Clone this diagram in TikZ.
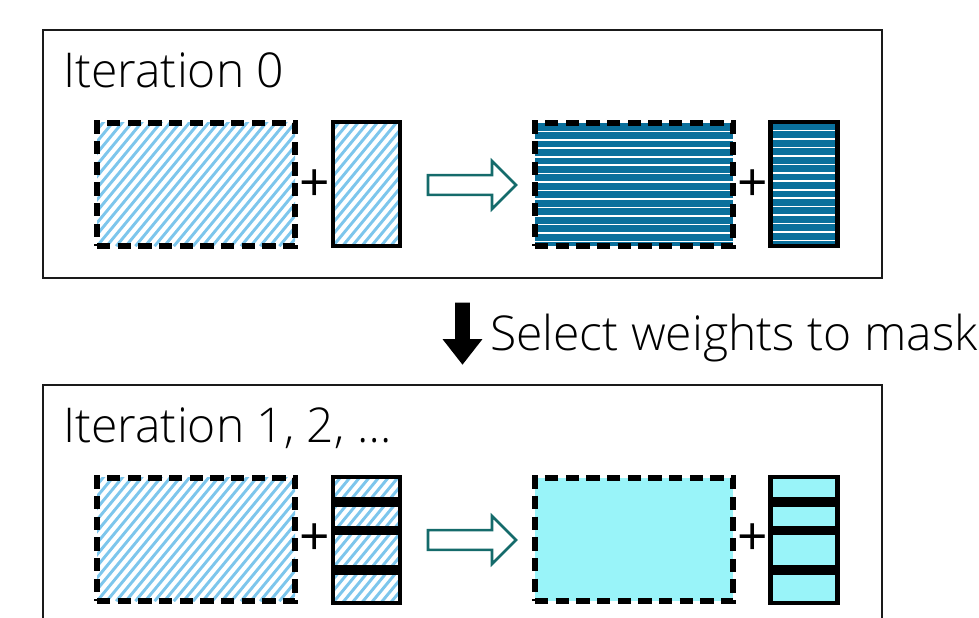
\documentclass[tikz,border=0pt]{standalone}
\usepackage{fontspec}
\IfFontExistsTF{Open Sans Light}
  {\setmainfont{Open Sans Light}}
  {\setmainfont{Open Sans}[FakeStretch=0.95]}
\newfontfamily\plusfont{Open Sans}
\usepackage{tikz}
\usetikzlibrary{shapes.arrows,positioning}
\definecolor{framegray}{HTML}{1A1A1A}
\definecolor{hatchblue}{HTML}{7DC6EC}
\definecolor{stripeblue}{HTML}{0A709C}
\definecolor{maskcyan}{HTML}{99F4F9}
\definecolor{arrowteal}{HTML}{156B6B}

\begin{document}
\begin{tikzpicture}[
  x=0.75pt, y=-0.75pt,
  font=\fontsize{36}{40}\selectfont,
  frame/.style={draw=framegray, line width=2.2pt, inner sep=0pt,
    minimum width=629.25pt, minimum height=186pt},
  wbig/.style={draw, line width=4.6pt, dash pattern=on 10pt off 5.5pt,
    inner sep=0pt, minimum width=148.5pt, minimum height=92.5pt},
  wsmall/.style={draw, line width=3.2pt, inner sep=0pt,
    minimum width=50.25pt, minimum height=93pt},
  hatchlines/.code={
    \foreach \k in {-16,...,24}
      \draw[solid, hatchblue, line width=2.2pt]
        ([xshift=\k*7.2pt]path picture bounding box.south west) -- ++(95pt,115pt);},
  bandlines/.code={
    \foreach \a/\b in {15/22.5,36.75/43.5,66/73.5}
      \fill[black] ([yshift=-\a pt]path picture bounding box.north west)
        rectangle ([yshift=-\b pt]path picture bounding box.north east);},
  hatch/.style={path picture={\tikzset{hatchlines}}},
  bands/.style={path picture={\tikzset{bandlines}}},
  hatchbands/.style={path picture={\tikzset{hatchlines,bandlines}}},
  stripes/.style={fill=stripeblue, path picture={
    \foreach \k in {1,...,14}
      \draw[solid, white, line width=1.2pt]
        ([yshift=-\k*6.35pt]path picture bounding box.north west) -- ++(200pt,0pt);}},
  fwd/.style={single arrow, draw=arrowteal, fill=white, line width=2pt,
    inner xsep=0pt, inner ysep=6.4pt, single arrow head extend=10.5pt,
    single arrow tip angle=90, minimum height=66pt},
  plus/.style={inner sep=0pt, font=\plusfont\fontsize{40}{40}\selectfont},
]
\clip (0,0) rectangle (979,618);
\useasboundingbox (0,0) rectangle (979,618);

\node[frame] (it0box) at (462.5,154) {};
\node[anchor=base west, inner sep=0pt] (it0lab) at (63,87) {Iteration 0};

\node[wbig, hatch] (w0) at (196,184.5) {};
\node[wsmall, hatch] (b0) at (366.5,184) {};
\node[plus] (p0) at (315,186) {+};
\node[fwd] (f0) at (467,185) {};
\node[wbig, stripes] (w0t) at (634,184.5) {};
\node[wsmall, stripes] (b0t) at (804,184) {};
\node[plus] (p0t) at (753,186) {+};

\node[single arrow, fill=black, shape border rotate=270, inner ysep=0pt,
      inner xsep=5.25pt, single arrow head extend=9.5pt,
      single arrow tip angle=76, minimum height=46.5pt] (sel) at (462.5,329) {};
\node[anchor=base west, inner sep=0pt] (sellab) at (490,350) {Select weights to mask};

\node[frame] (it1box) at (462.5,509) {};
\node[anchor=base west, inner sep=0pt] (it1lab) at (63,442) {Iteration 1, 2, \dots};

\node[wbig, hatch] (w1) at (196,539.5) {};
\node[wsmall, hatchbands, minimum height=94pt] (b1) at (366.5,540) {};
\node[plus] (p1) at (315,540) {+};
\node[fwd] (f1) at (467,540) {};
\node[wbig, fill=maskcyan] (w1t) at (634,539.5) {};
\node[wsmall, fill=maskcyan, bands, minimum height=94pt] (b1t) at (804,540) {};
\node[plus] (p1t) at (753,540) {+};
\end{tikzpicture}
\end{document}
